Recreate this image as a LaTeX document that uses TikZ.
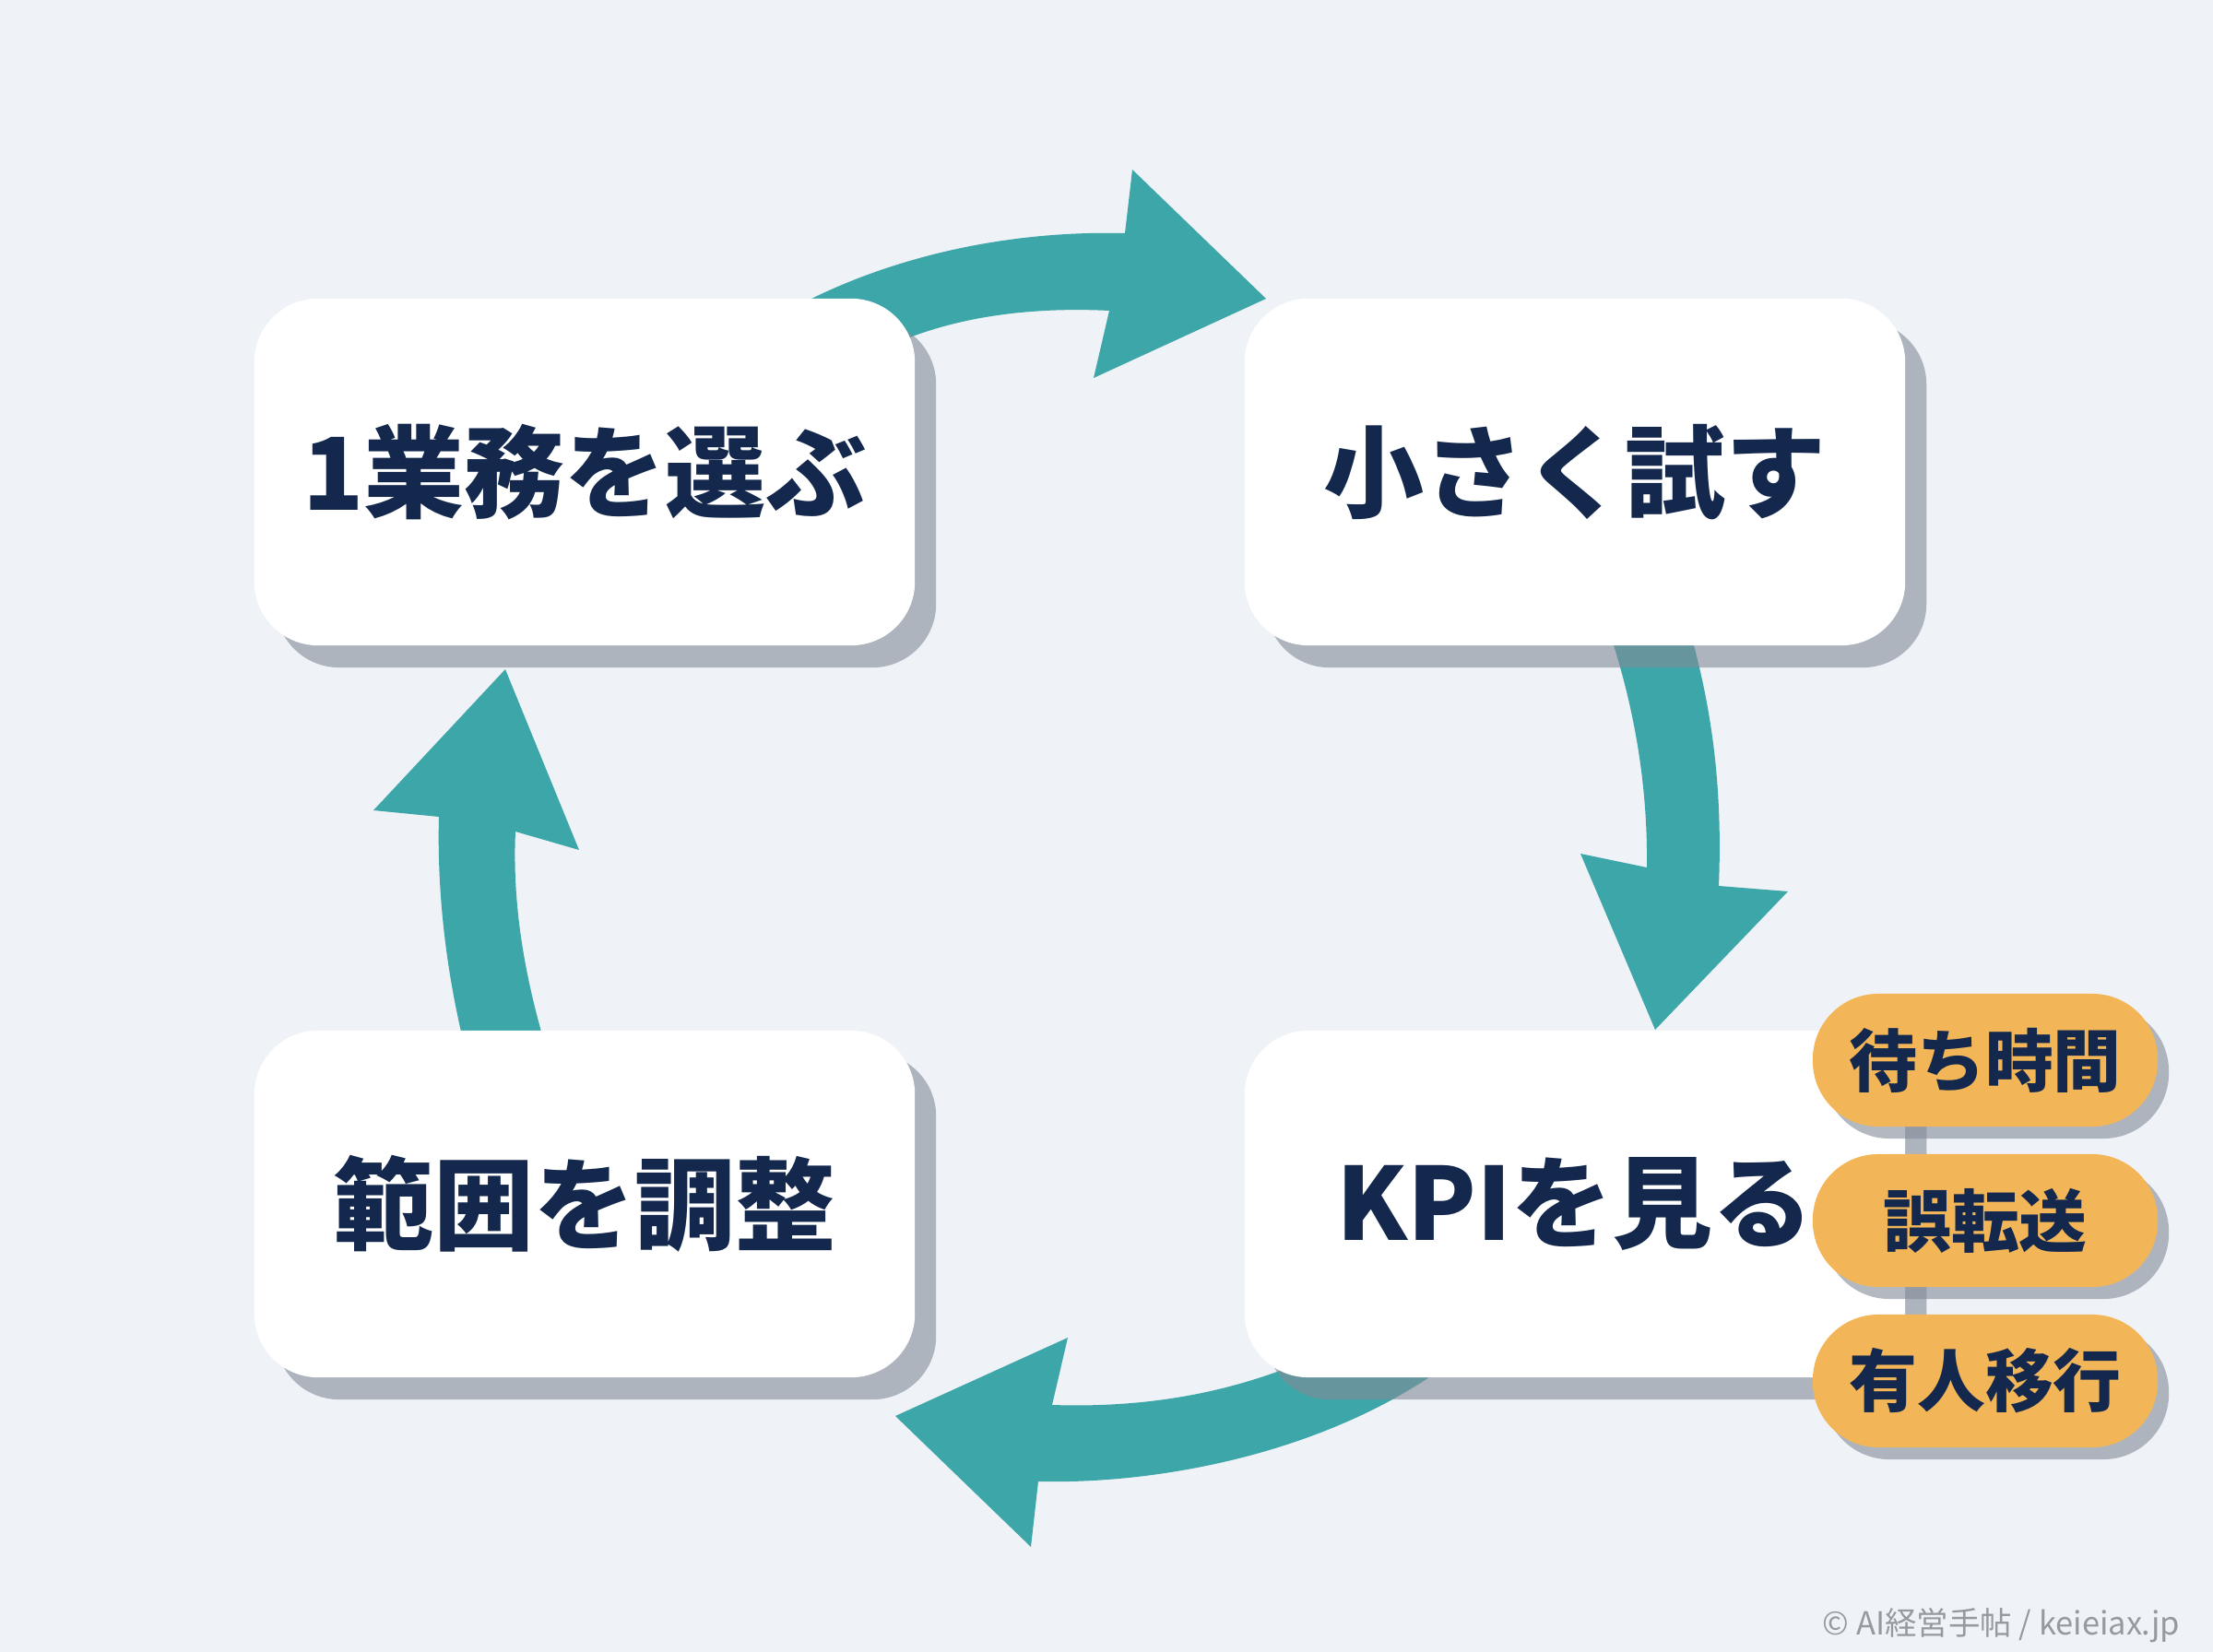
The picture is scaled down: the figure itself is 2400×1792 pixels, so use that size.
\documentclass[tikz,border=0pt]{standalone}
\usepackage{fontspec}
\newfontfamily\jp{Noto Sans CJK JP}
\newfontfamily\jpheavy{Noto Sans CJK JP}[UprightFont={* Black}]
\usetikzlibrary{shadows}
\definecolor{bgcol}{RGB}{239,243,248}
\definecolor{cyclecol}{RGB}{61,166,168}
\definecolor{navy}{RGB}{20,40,78}
\definecolor{pillcol}{RGB}{242,182,88}
\definecolor{shadecol}{RGB}{130,139,152}
\definecolor{markgray}{RGB}{150,154,160}
\pgfdeclarelayer{bg}
\pgfsetlayers{bg,main}
\begin{document}
\begin{tikzpicture}[x=0.01cm,y=-0.01cm]
	\tikzset{stepbox/.style={fill=white,rounded corners=0.69cm,minimum width=7.16cm,minimum height=3.76cm,inner sep=0pt,text=navy,font=\jpheavy\fontsize{31}{31}\selectfont,general shadow={fill=shadecol,opacity=0.6,shadow xshift=0.23cm,shadow yshift=-0.24cm}},
		tag/.style={fill=pillcol,rounded corners=0.71cm,minimum width=3.74cm,minimum height=1.44cm,inner sep=0pt,text=navy,font=\jp\bfseries\fontsize{21}{21}\selectfont,general shadow={fill=shadecol,opacity=0.6,shadow xshift=0.12cm,shadow yshift=-0.13cm}},
		flow/.style={fill=cyclecol}}
	\useasboundingbox (0,0) rectangle (2400,1792);
	\begin{pgfonlayer}{bg}
		\fill[bgcol] (0,0) rectangle (2400,1792);
		% big cycle arrows, tails hidden under the boxes
		\fill[flow] (880,324) .. controls (980,275) and (1100,250) .. (1220,253) -- (1228,184) -- (1373,324) -- (1186,410) -- (1203,337) .. controls (1120,333) and (1050,343) .. (992,364) -- (900,400) -- cycle;
		\fill[flow] (1745,680) -- (1750,700) .. controls (1775,780) and (1787,860) .. (1786,941) -- (1714,926) -- (1795,1117) -- (1939,967) -- (1864,961) .. controls (1868,860) and (1858,780) .. (1837,700) -- (1832,680) -- cycle;
		\fill[flow] (1550,1494) .. controls (1420,1580) and (1250,1610) .. (1126,1607) -- (1118,1678) -- (971,1536) -- (1158,1451) -- (1141,1524) .. controls (1230,1527) and (1310,1515) .. (1385,1488) -- (1450,1460) -- cycle;
		\fill[flow] (587,1119) .. controls (565,1040) and (556,970) .. (559,902) -- (628,922) -- (548,726) -- (405,879) -- (476,886) .. controls (474,960) and (482,1040) .. (500,1119) -- (500,1140) -- (590,1140) -- cycle;
	\end{pgfonlayer}
	
	\node[stepbox] (pick) at (634,512) {1業務を選ぶ};
	\node[stepbox] (try) at (1708,512) {小さく試す};
	\node[stepbox] (kpi) at (1708,1306) {KPIを見る};
	\node[stepbox] (adjust) at (634,1306) {範囲を調整};
	
	\foreach \n/\t/\y in {wait/待ち時間/1150,miss/誤転送/1324,hand/有人移行/1498}
		\node[tag] (\n) at (2153,\y) {\t};
	
	\node[anchor=east,inner sep=0pt,text=markgray,font=\jp\fontsize{9.8}{9.8}\selectfont] (mark) at (2365,1763) {© AI経営手帖 / keieiax.jp};
\end{tikzpicture}
\end{document}
